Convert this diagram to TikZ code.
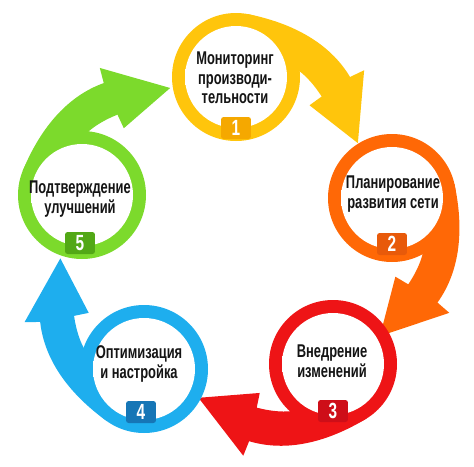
\documentclass[tikz,border=0pt]{standalone}
\usepackage{fontspec}
\setmainfont{Liberation Sans}
\newfontfamily\narrowsans[FakeStretch=0.7]{Liberation Sans}
\usepackage{tikz}

\definecolor{stage1}{RGB}{255,197,12}
\definecolor{stage2}{RGB}{255,104,6}
\definecolor{stage3}{RGB}{238,20,22}
\definecolor{stage4}{RGB}{30,174,238}
\definecolor{stage5}{RGB}{124,218,44}
\definecolor{box1}{RGB}{245,168,0}
\definecolor{box2}{RGB}{232,90,10}
\definecolor{box3}{RGB}{206,14,24}
\definecolor{box4}{RGB}{22,118,182}
\definecolor{box5}{RGB}{82,168,22}
\colorlet{discedge}{gray!22}
\pgfdeclareradialshading{discglow}{\pgfpointorigin}{color(0bp)=(white); color(36bp)=(white); color(50bp)=(discedge)}

\tikzset{
  numbox/.style={minimum width=0.6cm, minimum height=0.44cm, inner sep=0pt,
    rounded corners=1.5pt, text=white, font=\narrowsans\bfseries\fontsize{12.5}{12.5}\selectfont},
  stagetext/.style={align=center, text=black!92, font=\narrowsans\bfseries\fontsize{10.5}{11.2}\selectfont}
}

\begin{document}
\begin{tikzpicture}[x=0.02cm, y=0.02cm]
  \useasboundingbox (0,0) rectangle (474,-467);
  % arrows: one shape per stage, turned about its own circle
  \foreach \cx/\cy/\rot/\col in {236/77/-1/stage1, 392/198/-67.5/stage2, 333/364/-138.4/stage3, 144/369/-205.4/stage4, 82/195/-282/stage5} {
    \begin{scope}[shift={(\cx,-\cy)}, rotate=\rot]
      \fill[\col] (80:64) .. controls (55,55) and (93,36) .. (114,2) -- (128,9) -- (123,-64) -- (74,-27) -- (86,-18)
        .. controls (78,-6) and (70,2) .. (6:64) -- (0,0) -- cycle;
    \end{scope}
  }
  % rings with a white disc inside
  \foreach \cx/\cy/\col in {236/77/stage1, 392/198/stage2, 333/364/stage3, 144/369/stage4, 82/195/stage5} {
    \fill[\col] (\cx,-\cy) circle (64);
    \shade[shading=discglow] (\cx,-\cy) circle (51);
  }
  % number boxes
  \node[numbox, fill=box1] (n1) at (236,-128) {1};
  \node[numbox, fill=box2] (n2) at (392,-244) {2};
  \node[numbox, fill=box3] (n3) at (333,-411) {3};
  \node[numbox, fill=box4] (n4) at (141,-412) {4};
  \node[numbox, fill=box5] (n5) at (80,-243) {5};
  % captions
  \node[stagetext] (s1) at (235,-78) {Мониторинг\\производи-\\тельности};
  \node[stagetext] (s2) at (393,-194) {Планирование\\развития сети};
  \node[stagetext] (s3) at (332,-361) {Внедрение\\изменений};
  \node[stagetext] (s4) at (139,-364) {Оптимизация\\и настройка};
  \node[stagetext] (s5) at (80,-199) {Подтверждение\\улучшений};
\end{tikzpicture}
\end{document}
